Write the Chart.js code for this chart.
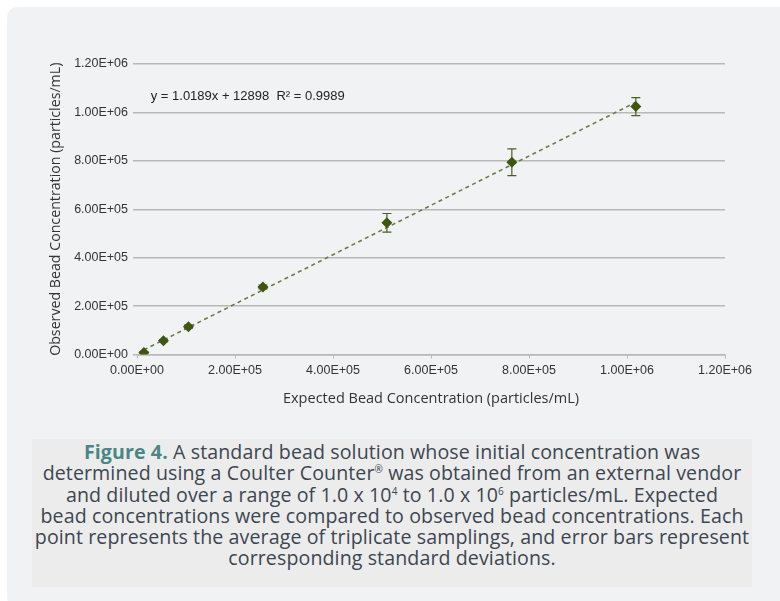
<!DOCTYPE html>
<html>
<head>
<meta charset="utf-8">
<script src="https://cdn.jsdelivr.net/npm/chart.js@4.4.0/dist/chart.umd.min.js"></script>
<style>
  html, body { margin: 0; padding: 0; background: #ffffff; }
  body { width: 780px; height: 601px; position: relative; overflow: hidden; }
  #panel { position: absolute; left: 7px; top: 7px; width: 785px; height: 600px;
           background: #f1f2f4; border-radius: 10px; }
  #wrap { position: absolute; left: 0; top: 0; width: 780px; height: 420px; }
  #caption { position: absolute; left: 32px; top: 439px; width: 720px; height: 148px;
             background: #ececec; box-sizing: border-box; padding-top: 2px;
             font-family: "Open Sans", sans-serif; font-size: 19.6px; line-height: 21.3px;
             color: #3d4651; text-align: center; letter-spacing: 0.1px; white-space: nowrap; }
  #caption b { color: #4a8685; font-weight: 700; }
  #caption sup { font-size: 10px; line-height: 0; vertical-align: 7px; }
</style>
</head>
<body>
<div id="panel"></div>
<div id="wrap"><canvas id="beadChart" width="780" height="420"></canvas></div>
<div id="caption"><b>Figure 4.</b> A standard bead solution whose initial concentration was<br>determined using a Coulter Counter<sup>®</sup> was obtained from an external vendor<br>and diluted over a range of 1.0 x 10<sup>4</sup> to 1.0 x 10<sup>6</sup> particles/mL. Expected<br>bead concentrations were compared to observed bead concentrations. Each<br>point represents the average of triplicate samplings, and error bars represent<br>corresponding standard deviations.</div>

<script>
// Data
const expected = [14000, 54000, 105000, 257000, 510000, 765000, 1018000];
const observed = [8000, 57000, 115000, 279000, 544000, 794000, 1024000];
const stdDev = [3000, 4000, 6000, 8000, 38500, 55000, 37000];

// linear trendline endpoints
const trendX = [14000, 1018000];
const trendY = [19000, 1042000];

const axisTicks = [0, 200000, 400000, 600000, 800000, 1000000, 1200000];
const equationText = 'y = 1.0189x + 12898  R² = 0.9989';

const olive = '#3f5610';

// 1.20E+06 style labels
function sci(v) {
  const parts = Number(v).toExponential(2).split('e');
  const exp = parseInt(parts[1], 10);
  const sign = exp < 0 ? '-' : '+';
  return parts[0] + 'E' + sign + String(Math.abs(exp)).padStart(2, '0');
}

// error bars drawn with the chart's own scales
const errorBars = {
  id: 'errorBars',
  beforeDatasetsDraw(chart) {
    const { ctx, scales: { x, y } } = chart;
    ctx.save();
    ctx.strokeStyle = '#4d5f1c';
    ctx.lineWidth = 1.2;
    expected.forEach((ev, i) => {
      const px = x.getPixelForValue(ev);
      const top = y.getPixelForValue(observed[i] + stdDev[i]);
      const bot = y.getPixelForValue(observed[i] - stdDev[i]);
      ctx.beginPath();
      ctx.moveTo(px, top); ctx.lineTo(px, bot);
      ctx.moveTo(px - 4.5, top); ctx.lineTo(px + 4.5, top);
      ctx.moveTo(px - 4.5, bot); ctx.lineTo(px + 4.5, bot);
      ctx.stroke();
    });
    ctx.restore();
  }
};

// trendline equation label
const equationLabel = {
  id: 'equationLabel',
  afterDraw(chart) {
    const { ctx, scales: { x, y } } = chart;
    ctx.save();
    ctx.font = '13px "Liberation Sans", Arial, sans-serif';
    ctx.fillStyle = '#222';
    ctx.textBaseline = 'middle';
    ctx.fillText(equationText, x.getPixelForValue(28000), y.getPixelForValue(1065000));
    ctx.restore();
  }
};

const ctx = document.getElementById('beadChart').getContext('2d');

new Chart(ctx, {
  type: 'scatter',
  data: {
    datasets: [
      {
        label: 'Observed',
        data: expected.map((v, i) => ({ x: v, y: observed[i] })),
        pointStyle: 'rectRot',
        pointRadius: 5.5,
        pointHoverRadius: 5.5,
        backgroundColor: olive,
        borderColor: olive,
        borderWidth: 0,
        showLine: false
      },
      {
        label: 'Linear',
        data: trendX.map((v, i) => ({ x: v, y: trendY[i] })),
        showLine: true,
        pointRadius: 0,
        borderColor: '#6d7a4a',
        borderWidth: 1.6,
        borderDash: [4, 3.5],
        fill: false
      }
    ]
  },
  options: {
    responsive: false,
    animation: false,
    layout: { padding: { left: 43, right: 55, top: 64, bottom: 8 } },
    plugins: {
      legend: { display: false },
      tooltip: { enabled: false }
    },
    scales: {
      x: {
        type: 'linear',
        min: 0,
        max: 1200000,
        afterBuildTicks: (s) => { s.ticks = axisTicks.map(v => ({ value: v })); },
        afterFit: (s) => { s.height = 57.5; },
        border: { display: true, color: '#b8b8b8', width: 1.5 },
        grid: { drawOnChartArea: false, drawTicks: true, tickLength: 4, color: '#b8b8b8' },
        ticks: {
          callback: (v) => sci(v),
          color: '#333',
          padding: 5,
          maxRotation: 0,
          font: { family: '"Liberation Sans", Arial, sans-serif', size: 12.5 }
        },
        title: {
          display: true,
          text: 'Expected Bead Concentration (particles/mL)',
          color: '#333',
          padding: { top: 11 },
          font: { family: '"Open Sans", sans-serif', size: 14.5 }
        }
      },
      y: {
        min: 0,
        max: 1200000,
        afterBuildTicks: (s) => { s.ticks = axisTicks.map(v => ({ value: v })); },
        afterFit: (s) => { s.width = 94; },
        border: { display: false },
        grid: { color: '#b8b8b8', lineWidth: 1.5, drawTicks: true, tickLength: 4 },
        ticks: {
          callback: (v) => sci(v),
          color: '#333',
          padding: 5,
          font: { family: '"Liberation Sans", Arial, sans-serif', size: 12.5 }
        },
        title: {
          display: true,
          text: 'Observed Bead Concentration (particles/mL)',
          color: '#333',
          padding: { bottom: 2 },
          font: { family: '"Open Sans", sans-serif', size: 14.2 }
        }
      }
    }
  },
  plugins: [errorBars, equationLabel]
});
</script>
</body>
</html>
